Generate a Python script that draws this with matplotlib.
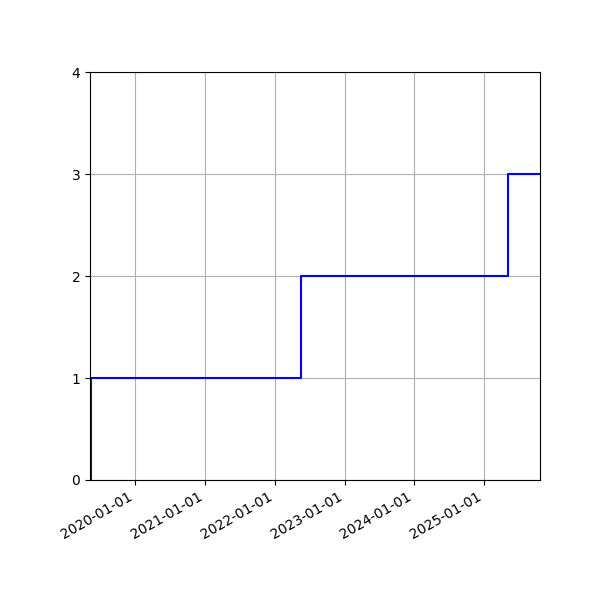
import numpy as np
import matplotlib
matplotlib.use("Agg")
import matplotlib.pyplot as plt
import matplotlib.dates as mdates

# cumulative count over time
dates = np.array(["2019-05-10", "2019-05-14", "2022-05-16", "2025-05-06", "2025-10-20"],
                 dtype="datetime64[D]")
counts = [0, 1, 2, 3, 3]


def main():
    fig, ax = plt.subplots(figsize=(6, 6), dpi=100)
    ax.step(dates, counts, where="post", color="blue")
    ax.set_xlim(dates[0], dates[-1])
    ax.set_ylim(0, 4)
    ax.set_yticks(range(0, 5))
    ax.xaxis.set_major_locator(mdates.YearLocator())
    ax.xaxis.set_major_formatter(mdates.DateFormatter("%Y-%m-%d"))
    ax.grid(True)
    fig.autofmt_xdate()
    fig.subplots_adjust(left=0.15)
    plt.savefig("out.png")


if __name__ == "__main__":
    main()
